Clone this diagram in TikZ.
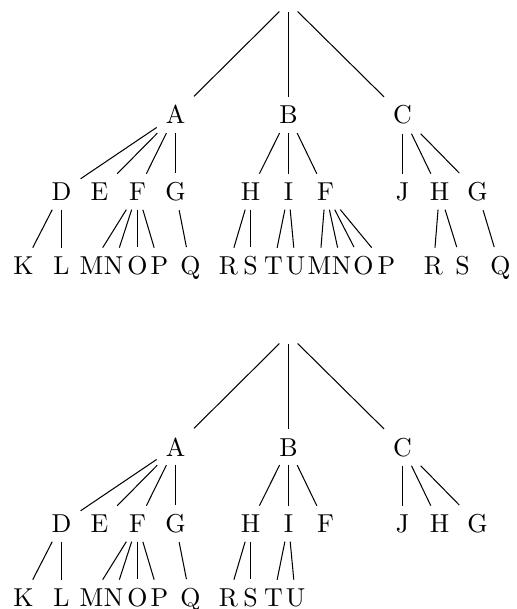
\documentclass[tikz,border=0pt]{standalone}
\begin{document}
\begin{tikzpicture}[x=0.3861pt,y=-0.3861pt,
  lbl/.style={anchor=base},
  branch/.style={draw=black,line width=0.4pt}]
\useasboundingbox (0,0) rectangle (516,609);

% half-unit shift keeps vertical branches on pixel centres
\begin{scope}[shift={(0.5,0)}]
% ---------- upper tree ----------
\node (tr) at (288,2.5) {};
\node[lbl] (tA) at (175,124) {A};
\node[lbl] (tB) at (288,124) {B};
\node[lbl] (tC) at (402,124) {C};
\node[lbl] (tD) at (61,200.5) {D};
\node[lbl] (tE) at (99,200.5) {E};
\node[lbl] (tF) at (137,200.5) {F};
\node[lbl] (tG) at (175,200.5) {G};
\node[lbl] (tH) at (250,200.5) {H};
\node[lbl] (tI) at (288,200.5) {I};
\node[lbl] (tFF) at (325,200.5) {F};
\node[lbl] (tJ) at (402,200.5) {J};
\node[lbl] (tHH) at (439,200.5) {H};
\node[lbl] (tGG) at (477,200.5) {G};
\node[lbl] (tK) at (23,274.5) {K};
\node[lbl] (tL) at (61,274.5) {L};
\node[lbl] (tM) at (91,274.5) {M};
\node[lbl] (tN) at (113,274.5) {N};
\node[lbl] (tO) at (137,274.5) {O};
\node[lbl] (tP) at (159,274.5) {P};
\node[lbl] (tQ) at (190,274.5) {Q};
\node[lbl] (tR) at (228,274.5) {R};
\node[lbl] (tS) at (250,274.5) {S};
\node[lbl] (tT) at (273,274.5) {T};
\node[lbl] (tU) at (295,274.5) {U};
\node[lbl] (tMM) at (319,274.5) {M};
\node[lbl] (tNN) at (341,274.5) {N};
\node[lbl] (tOO) at (363,274.5) {O};
\node[lbl] (tPP) at (386,274.5) {P};
\node[lbl] (tRR) at (433,274.5) {R};
\node[lbl] (tSS) at (462,274.5) {S};
\node[lbl] (tQQ) at (500,274.5) {Q};

% ---------- lower tree ----------
\begin{scope}[shift={(0,332)}]
\node (br) at (288,2.5) {};
\node[lbl] (bA) at (175,124) {A};
\node[lbl] (bB) at (288,124) {B};
\node[lbl] (bC) at (402,124) {C};
\node[lbl] (bD) at (61,200.5) {D};
\node[lbl] (bE) at (99,200.5) {E};
\node[lbl] (bF) at (137,200.5) {F};
\node[lbl] (bG) at (175,200.5) {G};
\node[lbl] (bH) at (250,200.5) {H};
\node[lbl] (bI) at (288,200.5) {I};
\node[lbl] (bFF) at (325,200.5) {F};
\node[lbl] (bJ) at (402,200.5) {J};
\node[lbl] (bHH) at (439,200.5) {H};
\node[lbl] (bGG) at (477,200.5) {G};
\node[lbl] (bK) at (23,274.5) {K};
\node[lbl] (bL) at (61,274.5) {L};
\node[lbl] (bM) at (91,274.5) {M};
\node[lbl] (bN) at (113,274.5) {N};
\node[lbl] (bO) at (137,274.5) {O};
\node[lbl] (bP) at (159,274.5) {P};
\node[lbl] (bQ) at (190,274.5) {Q};
\node[lbl] (bR) at (228,274.5) {R};
\node[lbl] (bS) at (250,274.5) {S};
\node[lbl] (bT) at (273,274.5) {T};
\node[lbl] (bU) at (295,274.5) {U};
\end{scope}
\end{scope}

\foreach \a/\b in {tr/tA,tr/tB,tr/tC,
  tA/tD,tA/tE,tA/tF,tA/tG, tB/tH,tB/tI,tB/tFF, tC/tJ,tC/tHH,tC/tGG,
  tD/tK,tD/tL, tF/tM,tF/tN,tF/tO,tF/tP, tG/tQ,
  tH/tR,tH/tS, tI/tT,tI/tU, tFF/tMM,tFF/tNN,tFF/tOO,tFF/tPP,
  tHH/tRR,tHH/tSS, tGG/tQQ}
  \draw[branch] (\a) -- (\b);

\foreach \a/\b in {br/bA,br/bB,br/bC,
  bA/bD,bA/bE,bA/bF,bA/bG, bB/bH,bB/bI,bB/bFF, bC/bJ,bC/bHH,bC/bGG,
  bD/bK,bD/bL, bF/bM,bF/bN,bF/bO,bF/bP, bG/bQ,
  bH/bR,bH/bS, bI/bT,bI/bU}
  \draw[branch] (\a) -- (\b);
\end{tikzpicture}
\end{document}
